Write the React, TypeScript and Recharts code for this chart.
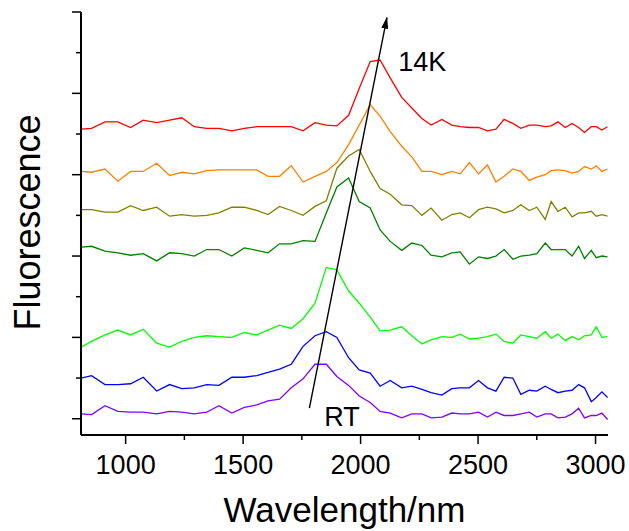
import { LineChart, Line, XAxis, YAxis, ReferenceLine, ReferenceDot } from "recharts";

// wavelength grid (nm), shared by every spectrum
const wavelengths = [
  810, 855, 912, 967, 1021, 1075, 1132, 1187, 1239, 1292, 1345, 1397, 1452, 1505, 1558, 1606, 1655, 1705,
  1755, 1806, 1854, 1899, 1949, 1994, 2041, 2083, 2126, 2175, 2218, 2261, 2300, 2346, 2388, 2424, 2463, 2502,
  2540, 2576, 2611, 2648, 2682, 2718, 2750, 2786, 2811, 2840, 2871, 2900, 2928, 2953, 2982, 3003, 3027, 3051,
];

// stacked spectra, top (14K) to bottom (RT), arbitrary offset units
const k14 = [
  3.56, 3.57, 3.65, 3.65, 3.58, 3.67, 3.64, 3.67, 3.7, 3.59, 3.57, 3.57, 3.54, 3.57, 3.59, 3.59, 3.59, 3.59,
  3.54, 3.64, 3.61, 3.6, 3.73, 4.06, 4.39, 4.41, 4.19, 3.95, 3.82, 3.69, 3.61, 3.68, 3.61, 3.59, 3.58, 3.58,
  3.54, 3.56, 3.68, 3.63, 3.57, 3.61, 3.61, 3.59, 3.6, 3.65, 3.58, 3.63, 3.58, 3.52, 3.59, 3.59, 3.55, 3.59,
];
const t2 = [
  3.04, 3.03, 3.07, 2.92, 3.04, 3.04, 3.14, 2.99, 3.03, 3.01, 3.05, 3.06, 3.06, 3.06, 3.06, 2.98, 2.98, 3.11,
  2.91, 2.98, 3.04, 3.15, 3.37, 3.61, 3.86, 3.72, 3.53, 3.35, 3.22, 3.04, 3.04, 3.0, 3.04, 3.01, 3.15, 3.01,
  3.12, 2.91, 2.98, 3.07, 3.04, 2.93, 2.97, 3.0, 3.05, 3.06, 3.05, 3.02, 3.04, 3.1, 3.07, 3.11, 3.04, 3.07,
];
const t3 = [
  2.57, 2.57, 2.54, 2.54, 2.62, 2.56, 2.6, 2.49, 2.51, 2.49, 2.5, 2.53, 2.6, 2.6, 2.56, 2.51, 2.61, 2.56,
  2.5, 2.61, 2.68, 3.08, 3.23, 3.31, 3.04, 2.83, 2.76, 2.63, 2.62, 2.5, 2.59, 2.44, 2.51, 2.53, 2.47, 2.57,
  2.6, 2.58, 2.53, 2.56, 2.63, 2.56, 2.6, 2.45, 2.67, 2.55, 2.6, 2.48, 2.53, 2.53, 2.55, 2.49, 2.51, 2.49,
];
const t4 = [
  2.11, 2.12, 2.06, 2.04, 2.01, 2.03, 1.94, 2.04, 2.03, 2.0, 2.08, 2.08, 2.0, 2.1, 2.07, 2.04, 2.15, 2.15,
  2.19, 2.18, 2.53, 2.85, 2.96, 2.67, 2.59, 2.32, 2.18, 2.07, 2.16, 2.13, 2.01, 1.99, 2.04, 2.05, 1.9, 1.99,
  1.97, 2.0, 2.08, 1.96, 2.0, 2.01, 2.03, 2.16, 2.08, 2.08, 2.08, 2.0, 2.12, 1.97, 2.07, 1.98, 2.0, 1.99,
];
const t5 = [
  0.88, 0.95, 1.03, 1.09, 1.03, 1.1, 0.93, 0.88, 0.95, 1.0, 1.02, 1.01, 1.0, 1.06, 1.03, 1.09, 1.15, 1.11,
  1.23, 1.42, 1.86, 1.83, 1.57, 1.42, 1.25, 1.08, 1.09, 1.13, 1.02, 0.92, 0.97, 1.01, 1.0, 1.04, 0.98, 0.99,
  1.01, 1.04, 0.95, 0.93, 1.03, 1.01, 0.99, 1.07, 0.99, 1.04, 0.96, 1.01, 0.97, 1.02, 1.03, 1.13, 1.0, 1.01,
];
const t6 = [
  0.5, 0.53, 0.42, 0.42, 0.43, 0.51, 0.34, 0.42, 0.37, 0.38, 0.42, 0.41, 0.51, 0.51, 0.53, 0.57, 0.61, 0.67,
  0.89, 1.02, 1.07, 1.0, 0.75, 0.6, 0.56, 0.4, 0.47, 0.38, 0.4, 0.36, 0.32, 0.29, 0.37, 0.38, 0.38, 0.47,
  0.38, 0.34, 0.51, 0.5, 0.3, 0.35, 0.34, 0.4, 0.36, 0.32, 0.34, 0.35, 0.42, 0.38, 0.21, 0.26, 0.33, 0.26,
];
const rt = [
  0.06, 0.05, 0.16, 0.09, 0.08, 0.08, 0.06, 0.09, 0.08, 0.06, 0.08, 0.16, 0.07, 0.14, 0.17, 0.22, 0.24, 0.38,
  0.49, 0.67, 0.67, 0.52, 0.41, 0.28, 0.2, 0.09, 0.07, 0.01, 0.06, 0.06, 0.01, 0.02, 0.07, 0.06, 0.06, 0.08,
  0.02, 0.08, 0.04, 0.04, 0.06, 0.08, 0.02, 0.06, 0.06, 0.01, 0.02, 0.06, 0.13, 0.01, 0.04, 0.04, 0.07, -0.01,
];

const series = [
  { key: "k14", values: k14, color: "#ff0000" },
  { key: "t2", values: t2, color: "#ff8000" },
  { key: "t3", values: t3, color: "#808000" },
  { key: "t4", values: t4, color: "#008000" },
  { key: "t5", values: t5, color: "#00ff00" },
  { key: "t6", values: t6, color: "#0000ff" },
  { key: "rt", values: rt, color: "#8000ff" },
];

const xTicks = [1000, 1250, 1500, 1750, 2000, 2250, 2500, 2750, 3000];
const yTicks = [0, 0.5, 1, 1.5, 2, 2.5, 3, 3.5, 4, 4.5, 5];

const arrowFrom = { x: 1782, y: 0.13 };
const arrowTo = { x: 2112, y: 4.93 };

const data = wavelengths.map((w, i) => {
  const row: any = { w };
  series.forEach((s) => (row[s.key] = s.values[i]));
  return row;
});

const FONT = "Arial, 'Liberation Sans', Helvetica, sans-serif";

function XTick(p: any) {
  const major = p.payload.value % 500 === 0;
  return (
    <g>
      <line x1={p.x} y1={p.y} x2={p.x} y2={p.y + (major ? 9 : 5)} stroke="#000" strokeWidth={1.5} />
      {major && (
        <text x={p.x} y={p.y + 39} textAnchor="middle" fontSize={27} fontFamily={FONT} fill="#000">
          {p.payload.value}
        </text>
      )}
    </g>
  );
}

function YTick(p: any) {
  const major = Number.isInteger(p.payload.value);
  return <line x1={p.x - (major ? 9 : 5)} y1={p.y} x2={p.x} y2={p.y} stroke="#000" strokeWidth={1.5} />;
}

function Arrow(p: any) {
  return (
    <g>
      <defs>
        <marker id="ahead" markerWidth={12} markerHeight={7} refX={11} refY={3.5} orient="auto" markerUnits="userSpaceOnUse">
          <path d="M0,0 L12,3.5 L0,7 z" fill="#000" />
        </marker>
      </defs>
      <line x1={p.x1} y1={p.y1} x2={p.x2} y2={p.y2} stroke="#000" strokeWidth={1.4} markerEnd="url(#ahead)" />
    </g>
  );
}

export default function App() {
  return (
    <div style={{ position: "absolute", left: 0, top: 0 }}>
      <LineChart width={629} height={531} data={data} margin={{ top: 12, right: 21, bottom: 0, left: 0 }}>
        <XAxis
          dataKey="w"
          type="number"
          domain={[810, 3053]}
          allowDataOverflow
          ticks={xTicks}
          tickLine={false}
          tickSize={0}
          tickMargin={0}
          height={96}
          axisLine={{ stroke: "#000", strokeWidth: 2 }}
          tick={<XTick />}
          label={{
            content: () => (
              <text x={344.5} y={522} textAnchor="middle" fontSize={35} fontFamily={FONT} fill="#000">
                Wavelength/nm
              </text>
            ),
          }}
        />
        <YAxis
          type="number"
          domain={[-0.2, 5]}
          allowDataOverflow
          ticks={yTicks}
          width={81}
          tickLine={false}
          tickSize={0}
          tickMargin={0}
          axisLine={{ stroke: "#000", strokeWidth: 2 }}
          tick={<YTick />}
          label={{
            content: () => (
              <text
                x={40}
                y={222.5}
                transform="rotate(-90 40 222.5)"
                textAnchor="middle"
                fontSize={36}
                fontFamily={FONT}
                fill="#000"
              >
                Fluorescence
              </text>
            ),
          }}
        />
        {series.map((s) => (
          <Line
            key={s.key}
            type="linear"
            dataKey={s.key}
            stroke={s.color}
            strokeWidth={1.3}
            dot={false}
            isAnimationActive={false}
          />
        ))}
        <ReferenceLine segment={[arrowFrom, arrowTo]} shape={<Arrow />} ifOverflow="visible" />
        <ReferenceDot
          x={2160}
          y={4.28}
          r={0}
          ifOverflow="visible"
          shape={(p: any) => (
            <text x={p.cx} y={p.cy} fontSize={27} fontFamily={FONT} fill="#000">
              14K
            </text>
          )}
        />
        <ReferenceDot
          x={1845}
          y={-0.09}
          r={0}
          ifOverflow="visible"
          shape={(p: any) => (
            <text x={p.cx} y={p.cy} fontSize={27} fontFamily={FONT} fill="#000">
              RT
            </text>
          )}
        />
      </LineChart>
    </div>
  );
}
